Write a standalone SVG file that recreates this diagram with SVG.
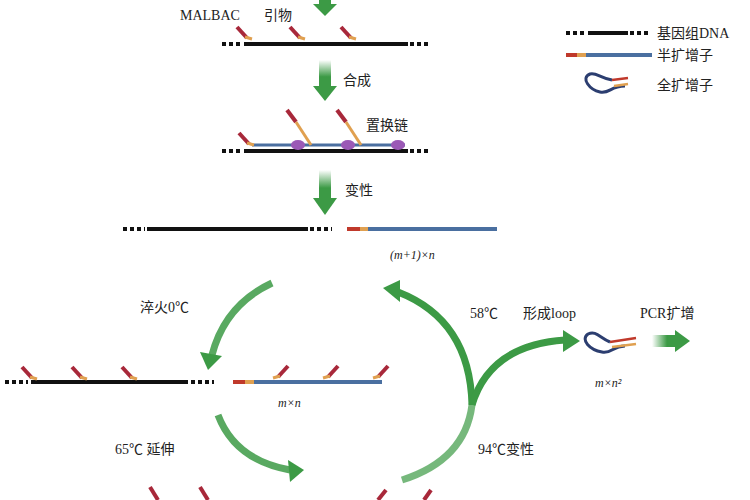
<svg xmlns="http://www.w3.org/2000/svg" width="750" height="500" viewBox="0 0 750 500">
<defs>
<linearGradient id="gv" x1="0" y1="0" x2="0" y2="1"><stop offset="0" stop-color="#3c9a45" stop-opacity="0"/><stop offset="0.6" stop-color="#3c9a45"/></linearGradient>
<linearGradient id="gh" x1="0" y1="0" x2="1" y2="0"><stop offset="0" stop-color="#3c9a45" stop-opacity="0"/><stop offset="0.6" stop-color="#3c9a45"/></linearGradient>
<g id="primerD"><line x1="0" y1="0" x2="10" y2="11" stroke="#a8283a" stroke-width="4"/><line x1="8" y1="10" x2="15" y2="12" stroke="#e0a050" stroke-width="3"/></g>
<g id="primerU"><line x1="0" y1="0" x2="-10" y2="11" stroke="#a8283a" stroke-width="4"/><line x1="-8" y1="10" x2="-15" y2="12" stroke="#e0a050" stroke-width="3"/></g>
</defs>
<style>
text{font-family:"Liberation Serif","Noto Sans CJK SC",serif;font-size:14px;fill:#222}
.it{font-style:italic;font-size:12px}
.g{stroke:#111;stroke-width:4}
.gd{stroke:#111;stroke-width:4;stroke-dasharray:4 3}
.hr{stroke:#c0392b;stroke-width:4}
.ho{stroke:#e0a050;stroke-width:4}
.hb{stroke:#4a6fa0;stroke-width:4}
.arc{fill:none;stroke:#3c9a45;stroke-width:7}
.ah{fill:#3c9a45}
</style>
<g id="connectors">
<rect x="319" y="0" width="12" height="6" fill="#3c9a45"/><polygon points="313,4 337,4 325,16" class="ah"/>
<rect x="319" y="60" width="12" height="28" fill="url(#gv)"/><polygon points="313,86 337,86 325,101" class="ah"/>
<rect x="319" y="170" width="12" height="30" fill="url(#gv)"/><polygon points="313,198 337,198 325,215" class="ah"/>
<path d="M272,283 Q225,305 212,355" class="arc" stroke-opacity="0.85"/><polygon points="200,352 222,356 208,370" class="ah"/>
<path d="M472,405 Q470,320 398,292" class="arc"/><polygon points="400,280 400,302 383,288" class="ah"/>
<path d="M218,415 Q235,460 290,470" class="arc" stroke-opacity="0.85"/><polygon points="288,460 290,482 304,470" class="ah"/>
<path d="M472,405 Q465,460 402,480" class="arc" stroke-opacity="0.7"/>
<path d="M472,405 Q490,345 565,340" class="arc"/><polygon points="563,330 563,352 580,341" class="ah"/>
<rect x="652" y="335" width="25" height="12" fill="url(#gh)"/><polygon points="675,330 675,352 690,341" class="ah"/>
</g>
<g id="legend">
<line x1="566" y1="33" x2="586" y2="33" class="gd"/><line x1="588" y1="33" x2="628" y2="33" class="g"/><line x1="630" y1="33" x2="650" y2="33" class="gd"/>
<text x="657" y="38">基因组DNA</text>
<line x1="566" y1="55" x2="577" y2="55" class="hr"/><line x1="577" y1="55" x2="586" y2="55" class="ho"/><line x1="586" y1="55" x2="652" y2="55" class="hb"/>
<text x="657" y="60">半扩增子</text>
<path d="M612,80 C600,78 596,72 590,74 C580,78 590,90 600,92 C610,94 610,86 625,86" fill="none" stroke="#2c3e70" stroke-width="3"/>
<line x1="612" y1="80" x2="628" y2="78" stroke="#c0392b" stroke-width="2.5"/><line x1="614" y1="86" x2="628" y2="84" stroke="#e0a050" stroke-width="2.5"/>
<text x="657" y="90">全扩增子</text>
</g>
<g id="step1">
<text x="180" y="20">MALBAC</text><text x="264" y="20">引物</text>
<use href="#primerD" x="237" y="27"/><use href="#primerD" x="290" y="27"/><use href="#primerD" x="341" y="27"/>
<line x1="222" y1="44" x2="242" y2="44" class="gd"/><line x1="244" y1="44" x2="408" y2="44" class="g"/><line x1="410" y1="44" x2="430" y2="44" class="gd"/>
</g>
<g id="step2">
<text x="343" y="85">合成</text><text x="366" y="130">置换链</text>
<line x1="222" y1="151" x2="242" y2="151" class="gd"/><line x1="244" y1="151" x2="408" y2="151" class="g"/><line x1="410" y1="151" x2="430" y2="151" class="gd"/>
<line x1="252" y1="145" x2="405" y2="145" stroke="#4a6fa0" stroke-width="3"/>
<use href="#primerD" x="239" y="133"/>
<line x1="287" y1="110" x2="296" y2="122" stroke="#a8283a" stroke-width="4"/><line x1="296" y1="122" x2="311" y2="145" stroke="#e0a050" stroke-width="3"/>
<line x1="337" y1="110" x2="346" y2="122" stroke="#a8283a" stroke-width="4"/><line x1="346" y1="122" x2="361" y2="145" stroke="#e0a050" stroke-width="3"/>
<ellipse cx="298" cy="145" rx="7" ry="5" fill="#9b59b6"/><ellipse cx="348" cy="145" rx="7" ry="5" fill="#9b59b6"/><ellipse cx="398" cy="145" rx="7" ry="5" fill="#9b59b6"/>
</g>
<g id="step3">
<text x="345" y="195">变性</text>
<line x1="123" y1="229" x2="145" y2="229" class="gd"/><line x1="147" y1="229" x2="308" y2="229" class="g"/><line x1="310" y1="229" x2="332" y2="229" class="gd"/>
<line x1="347" y1="229" x2="360" y2="229" class="hr"/><line x1="360" y1="229" x2="368" y2="229" class="ho"/><line x1="368" y1="229" x2="497" y2="229" class="hb"/>
<text x="390" y="259" class="it">(m+1)×n</text>
</g>
<g id="cycle">
<text x="140" y="312">淬火0℃</text>
<line x1="5" y1="382" x2="28" y2="382" class="gd"/><line x1="31" y1="382" x2="188" y2="382" class="g"/><line x1="191" y1="382" x2="214" y2="382" class="gd"/>
<use href="#primerD" x="22" y="367"/><use href="#primerD" x="72" y="367"/><use href="#primerD" x="122" y="367"/>
<line x1="233" y1="382" x2="245" y2="382" class="hr"/><line x1="245" y1="382" x2="254" y2="382" class="ho"/><line x1="254" y1="382" x2="382" y2="382" class="hb"/>
<use href="#primerU" x="288" y="366"/><use href="#primerU" x="338" y="366"/><use href="#primerU" x="388" y="366"/>
<text x="278" y="407" class="it">m×n</text>
<text x="115" y="454">65℃ 延伸</text>
<text x="478" y="454">94℃变性</text>
<text x="470" y="318">58℃</text><text x="523" y="318">形成loop</text>
<text x="640" y="318">PCR扩增</text>
<path d="M610,342 C600,338 596,330 588,334 C580,340 590,350 602,352 C612,354 612,346 625,346" fill="none" stroke="#2c3e70" stroke-width="3"/>
<line x1="610" y1="342" x2="636" y2="338" stroke="#c0392b" stroke-width="2.5"/><line x1="612" y1="347" x2="636" y2="344" stroke="#e0a050" stroke-width="2.5"/>
<text x="595" y="387" class="it">m×n²</text>
<line x1="150" y1="487" x2="158" y2="500" stroke="#a8283a" stroke-width="4"/><line x1="200" y1="487" x2="208" y2="500" stroke="#a8283a" stroke-width="4"/>
<line x1="378" y1="500" x2="386" y2="490" stroke="#a8283a" stroke-width="4"/><line x1="424" y1="500" x2="431" y2="490" stroke="#a8283a" stroke-width="4"/>
</g>
</svg>
